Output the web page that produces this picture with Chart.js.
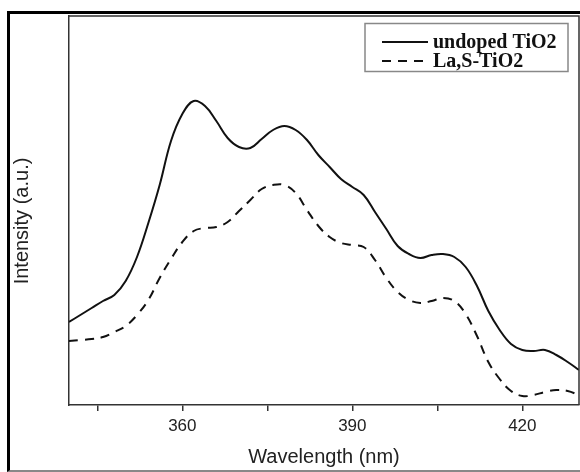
<!DOCTYPE html>
<html>
<head>
<meta charset="utf-8">
<script src="https://cdn.jsdelivr.net/npm/chart.js@4"></script>
<style>
  html, body { margin: 0; padding: 0; background: #fff; overflow: hidden; }
  #wrap { position: relative; width: 580px; height: 472px; }
  #frame {
    position: absolute; left: 7px; top: 11px; width: 600px; height: 456px;
    border-left: 3px solid #000; border-top: 3px solid #000; border-bottom: 2px solid #888;
  }
  canvas { position: absolute; left: 0; top: 0; }
</style>
</head>
<body>
<div id="wrap">
  <div id="frame"></div>
  <canvas id="myChart" width="580" height="472"></canvas>
</div>
<script>
(() => {
  'use strict'

  // Data (intensity in arbitrary units)
  const wavelengths = [
    340, 342, 344, 346, 348, 350, 352, 354, 356, 358,
    360, 362, 364, 366, 368, 370, 372, 374, 376, 378,
    380, 382, 384, 386, 388, 390, 392, 394, 396, 398,
    400, 402, 404, 406, 408, 410, 412, 414, 416, 418,
    420, 422, 424, 426, 428, 430
  ]
  const undopedTiO2 = [
    83, 90, 97, 104, 110, 124, 148, 182, 220, 264,
    291, 304, 299, 284, 267, 258, 257, 266, 275, 279,
    275, 265, 250, 238, 226, 218, 210, 193, 176, 159,
    151, 147, 150, 151, 148, 138, 119, 94, 75, 61,
    55, 54, 55, 50, 43, 35
  ]
  const laSTiO2 = [
    64, 65, 66, 68, 73, 79, 90, 105, 127, 146,
    163, 174, 177, 178, 183, 194, 205, 216, 220, 220,
    212, 195, 179, 168, 162, 160, 158, 145, 127, 113,
    105, 102, 104, 107, 104, 91, 69, 43, 26, 14,
    9, 10, 13, 15, 14, 10
  ]
  const tickValues = [345, 360, 375, 390, 405, 420]
  const tickLabels = [360, 390, 420]
  const yTitle = 'Intensity (a.u.)'

  const toPoints = arr => arr.map((v, i) => ({ x: wavelengths[i], y: v }))

  // Plot frame, y title (sits a bit below centre) and legend box
  const frameAndLegend = {
    id: 'frameAndLegend',
    afterDraw (chart) {
      const { ctx, chartArea: a } = chart
      ctx.save()
      ctx.strokeStyle = '#333'
      ctx.lineWidth = 1.5
      ctx.beginPath()
      ctx.moveTo(a.left, a.top)
      ctx.lineTo(a.right, a.top)
      ctx.lineTo(a.right, a.bottom)
      ctx.stroke()

      ctx.save()
      ctx.translate(22, 221)
      ctx.rotate(-Math.PI / 2)
      ctx.font = '20px Arial, "Liberation Sans", sans-serif'
      ctx.fillStyle = '#222'
      ctx.textAlign = 'center'
      ctx.textBaseline = 'middle'
      ctx.fillText(yTitle, 0, 0)
      ctx.restore()

      // legend
      ctx.strokeStyle = '#888'
      ctx.lineWidth = 1.5
      ctx.strokeRect(365, 23.5, 203, 48)
      ctx.font = 'bold 20px "Liberation Serif", "Times New Roman", serif'
      ctx.textBaseline = 'middle'
      ctx.fillStyle = '#111'
      chart.data.datasets.forEach((ds, i) => {
        const y = 42 + i * 19
        ctx.strokeStyle = ds.borderColor
        ctx.lineWidth = 2
        ctx.setLineDash(ds.borderDash || [])
        ctx.beginPath()
        ctx.moveTo(382, y)
        ctx.lineTo(428, y)
        ctx.stroke()
        ctx.setLineDash([])
        ctx.fillText(ds.label, 433, y + 1)
      })
      ctx.restore()
    }
  }

  const ctx = document.getElementById('myChart')
  // eslint-disable-next-line no-unused-vars
  const myChart = new Chart(ctx, {
    type: 'line',
    data: {
      datasets: [{
        label: 'undoped TiO2',
        data: toPoints(undopedTiO2),
        borderColor: '#111',
        borderWidth: 2,
        pointRadius: 0,
        tension: 0.4,
        fill: false
      }, {
        label: 'La,S-TiO2',
        data: toPoints(laSTiO2),
        borderColor: '#111',
        borderWidth: 2,
        borderDash: [9, 7],
        pointRadius: 0,
        tension: 0.4,
        fill: false
      }]
    },
    options: {
      responsive: false,
      animation: false,
      layout: { padding: { top: 16, right: 1, left: 0, bottom: 0 } },
      plugins: {
        legend: { display: false },
        tooltip: { enabled: false }
      },
      scales: {
        x: {
          type: 'linear',
          min: 340,
          max: 430,
          afterFit: s => { s.height = 67 },
          afterBuildTicks: s => { s.ticks = tickValues.map(v => ({ value: v })) },
          grid: { drawOnChartArea: false, tickLength: 6, color: '#333', lineWidth: 1.5 },
          border: { color: '#333', width: 1.5 },
          ticks: {
            padding: 5,
            maxRotation: 0,
            autoSkip: false,
            color: '#222',
            font: { family: 'Arial, "Liberation Sans", sans-serif', size: 17 },
            callback: v => tickLabels.includes(v) ? String(v) : ''
          },
          title: {
            display: true,
            text: 'Wavelength (nm)',
            color: '#222',
            font: { family: 'Arial, "Liberation Sans", sans-serif', size: 20 },
            padding: { top: 3, bottom: 3 }
          }
        },
        y: {
          min: 0,
          max: 389,
          afterFit: s => { s.width = 69 },
          grid: { drawOnChartArea: false, drawTicks: false },
          border: { color: '#333', width: 1.5 },
          ticks: { display: false },
          title: { display: false }
        }
      }
    },
    plugins: [frameAndLegend]
  })
})()
</script>
</body>
</html>
